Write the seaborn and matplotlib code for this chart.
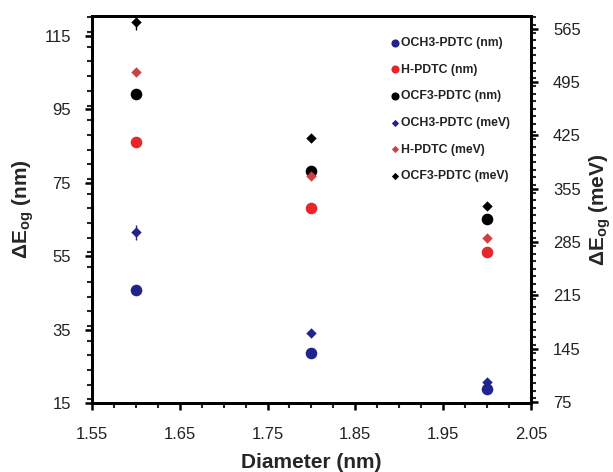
import matplotlib
matplotlib.use("Agg")
import matplotlib.pyplot as plt
import seaborn as sns
from matplotlib.ticker import MultipleLocator

# Data
diameter = [1.6, 1.8, 2.0]

och3_nm = [45.9, 28.7, 18.8]
h_nm = [86.0, 68.0, 56.0]
ocf3_nm = [99.2, 78.1, 65.0]

och3_mev = [298, 166, 101]
h_mev = [508, 372, 290]
ocf3_mev = [574, 422, 332]

och3_mev_err = [10, 3, 3]
h_mev_err = [3, 3, 3]
ocf3_mev_err = [11, 3, 3]

sns.set_style("white")
plt.rcParams["font.family"] = ["Liberation Sans", "DejaVu Sans"]
plt.rcParams["mathtext.fontset"] = "custom"
plt.rcParams["mathtext.rm"] = "Liberation Sans:bold"
plt.rcParams["mathtext.it"] = "Liberation Sans:bold"
plt.rcParams["mathtext.bf"] = "Liberation Sans:bold"

blue = "#23238e"
red = "#e5262b"
red2 = "#cf3f3f"
black = "#000000"

fig = plt.figure(figsize=(6.13, 4.72), dpi=100)
ax = fig.add_axes([0.150, 0.146, 0.716, 0.821])
ax2 = ax.twinx()

# nm series (left axis, circles)
for vals, col, lab in [(och3_nm, blue, "OCH3-PDTC (nm)"),
                       (h_nm, red, "H-PDTC (nm)"),
                       (ocf3_nm, black, "OCF3-PDTC (nm)")]:
    sns.scatterplot(x=diameter, y=vals, color=col, marker="o", s=70,
                    edgecolor=col, linewidth=0, label=lab, ax=ax, zorder=3)

# meV series (right axis, diamonds with error bars)
for vals, err, col, lab in [(och3_mev, och3_mev_err, blue, "OCH3-PDTC (meV)"),
                            (h_mev, h_mev_err, red2, "H-PDTC (meV)"),
                            (ocf3_mev, ocf3_mev_err, black, "OCF3-PDTC (meV)")]:
    ax2.errorbar(diameter, vals, yerr=err, fmt="none", ecolor=col,
                 elinewidth=1, capsize=0, zorder=2)
    sns.scatterplot(x=diameter, y=vals, color=col, marker="D", s=28,
                    edgecolor=col, linewidth=0, label=lab, ax=ax2, zorder=3)

ax.set_xlim(1.55, 2.05)
ax.set_ylim(15, 120.5)
ax2.set_ylim(73.7, 582.4)

ax.set_xticks([1.55, 1.65, 1.75, 1.85, 1.95, 2.05])
ax.set_yticks([15, 35, 55, 75, 95, 115])
ax2.set_yticks([75, 145, 215, 285, 355, 425, 495, 565])
ax.xaxis.set_minor_locator(MultipleLocator(0.025))
ax.yaxis.set_minor_locator(MultipleLocator(4))
ax2.yaxis.set_minor_locator(MultipleLocator(10))

for a in (ax, ax2):
    a.tick_params(which="major", direction="out", length=5, width=1.8,
                  labelsize=12, colors="black", labelcolor="#222222")
    a.tick_params(which="minor", direction="out", length=3.5, width=1.5)
    for sp in a.spines.values():
        sp.set_linewidth(2)
        sp.set_color("black")
ax.tick_params(axis="y", which="both", left=True)
ax.tick_params(axis="y", which="major", pad=10)
ax.tick_params(axis="x", which="both", bottom=True)
ax.tick_params(axis="x", which="major", pad=12)
ax2.tick_params(axis="y", which="both", right=True)
ax2.tick_params(axis="y", which="major", pad=11)

ax.set_xlabel("Diameter (nm)", fontsize=15, fontweight="bold", labelpad=8)
ax.set_ylabel(r"ΔE$_{og}$ (nm)", fontsize=15, fontweight="bold", labelpad=6)
ax2.set_ylabel(r"ΔE$_{og}$ (meV)", fontsize=15, fontweight="bold", labelpad=5)

h1, l1 = ax.get_legend_handles_labels()
h2, l2 = ax2.get_legend_handles_labels()
if ax.get_legend():
    ax.get_legend().remove()
if ax2.get_legend():
    ax2.get_legend().remove()
leg = ax2.legend(h1 + h2, l1 + l2, loc="upper left",
                 bbox_to_anchor=(0.628, 0.932), bbox_transform=fig.transFigure,
                 frameon=False, fontsize=8.8, labelspacing=1.2,
                 handletextpad=0.1, handlelength=0.8, markerscale=0.7,
                 borderaxespad=0)
for t in leg.get_texts():
    t.set_fontweight("bold")
    t.set_color("#222222")

fig.savefig("out.png", dpi=100)
